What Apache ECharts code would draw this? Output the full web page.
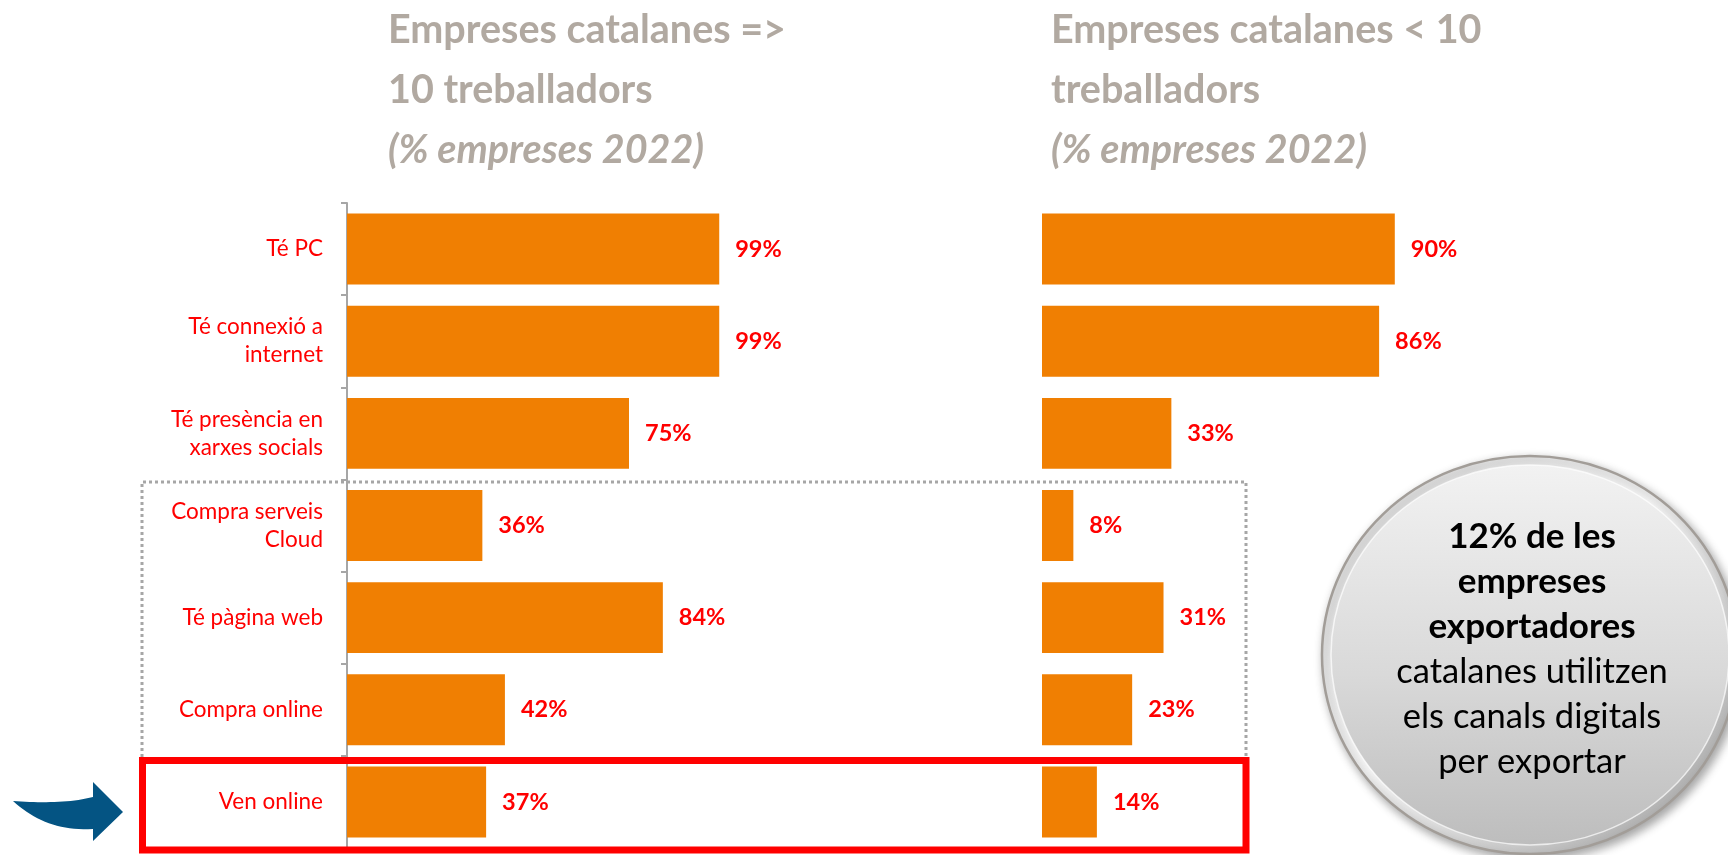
<!DOCTYPE html>
<html>
<head>
<meta charset="utf-8">
<script src="https://cdn.jsdelivr.net/npm/echarts@6/dist/echarts.min.js"></script>
<style>
  html, body { margin: 0; padding: 0; background: #ffffff; }
  #chart { width: 1728px; height: 855px; }
</style>
</head>
<body>
<div id="chart"></div>
<script>
// ---- data ----
const categories = ['Té PC', 'Té connexió a\ninternet', 'Té presència en\nxarxes socials', 'Compra serveis\nCloud', 'Té pàgina web', 'Compra online', 'Ven online'];
const large = [99, 99, 75, 36, 84, 42, 37];   // Empreses catalanes => 10 treballadors
const small = [90, 86, 33, 8, 31, 23, 14];    // Empreses catalanes < 10 treballadors
const titleLarge = ['Empreses catalanes =>', '10 treballadors', '(% empreses 2022)'];
const titleSmall = ['Empreses catalanes < 10', 'treballadors', '(% empreses 2022)'];
const bubbleBold = ['12% de les', 'empreses', 'exportadores'];
const bubbleRegular = ['catalanes utilitzen', 'els canals digitals', 'per exportar'];

const FONT = 'Lato, "Open Sans", sans-serif';
const ORANGE = '#F07F02';
const RED = '#FF0000';
const GREY_TITLE = '#B1A9A1';

function titleText(lines) {
  return '{a|' + lines[0] + '}\n{a|' + lines[1] + '}\n{b|' + lines[2] + '}';
}
const titleRich = {
  a: { fontFamily: FONT, fontWeight: 'bold', fontSize: 39.5, color: GREY_TITLE, lineHeight: 60 },
  b: { fontFamily: FONT, fontWeight: 'bold', fontStyle: 'italic', fontSize: 39.5, color: GREY_TITLE, lineHeight: 60 }
};

const valueLabel = {
  show: true, position: 'right', distance: 16,
  formatter: '{c}%',
  fontFamily: FONT, fontWeight: 'bold', fontSize: 23.5, color: RED
};

// sample a cubic bezier into points (for the arrow outline)
function cubic(p0, p1, p2, p3, n) {
  const pts = [];
  for (let i = 0; i <= n; i++) {
    const t = i / n, u = 1 - t;
    pts.push([
      u*u*u*p0[0] + 3*u*u*t*p1[0] + 3*u*t*t*p2[0] + t*t*t*p3[0],
      u*u*u*p0[1] + 3*u*u*t*p1[1] + 3*u*t*t*p2[1] + t*t*t*p3[1]
    ]);
  }
  return pts;
}
const arrowPts = [].concat(
  cubic([13, 801], [40, 803], [70, 803], [93, 797], 20),
  [[93, 782], [123, 812], [93, 841], [93, 829]],
  cubic([93, 829], [60, 831], [35, 821], [13, 801], 20)
);

const chart = echarts.init(document.getElementById('chart'));
chart.setOption({
  backgroundColor: '#ffffff',
  animation: false,
  title: [
    { text: titleText(titleLarge), left: 388, top: 0, padding: 0, textStyle: { rich: titleRich } },
    { text: titleText(titleSmall), left: 1051, top: 0, padding: 0, textStyle: { rich: titleRich } }
  ],
  grid: [
    { left: 347, top: 203, width: 376, height: 645, containLabel: false, outerBoundsMode: 'none' },
    { left: 1042, top: 203, width: 392, height: 645, containLabel: false, outerBoundsMode: 'none' }
  ],
  xAxis: [
    { type: 'value', gridIndex: 0, min: 0, max: 100, show: false },
    { type: 'value', gridIndex: 1, min: 0, max: 100, show: false }
  ],
  yAxis: [
    {
      type: 'category', gridIndex: 0, data: categories, inverse: true,
      axisLine: { show: true, lineStyle: { color: '#A6A6A6', width: 2 } },
      axisTick: { show: true, length: 6, lineStyle: { color: '#A6A6A6', width: 2 } },
      axisLabel: {
        margin: 24, color: RED, fontFamily: FONT, fontSize: 22.5, lineHeight: 28, align: 'right'
      },
      splitLine: { show: false }
    },
    {
      type: 'category', gridIndex: 1, data: categories, inverse: true,
      axisLine: { show: false }, axisTick: { show: false }, axisLabel: { show: false }, splitLine: { show: false }
    }
  ],
  series: [
    {
      type: 'bar', xAxisIndex: 0, yAxisIndex: 0, data: large,
      barCategoryGap: '23%', itemStyle: { color: ORANGE }, label: valueLabel, z: 3
    },
    {
      type: 'bar', xAxisIndex: 1, yAxisIndex: 1, data: small,
      barCategoryGap: '23%', itemStyle: { color: ORANGE }, label: valueLabel, z: 3
    }
  ],
  graphic: [
    {
      type: 'polyline', z: 1,
      shape: { points: [[142, 757], [142, 482], [1246, 482], [1246, 757]] },
      style: { stroke: '#A6A6A6', lineWidth: 3, lineDash: [3, 3], fill: null }
    },
    {
      type: 'rect', z: 2,
      shape: { x: 142.5, y: 760.5, width: 1103.5, height: 89.5 },
      style: { stroke: RED, lineWidth: 7, fill: null }
    },
    {
      type: 'polygon', z: 2,
      shape: { points: arrowPts },
      style: { fill: '#045483' }
    },
    {
      type: 'circle', z: 5,
      x: 1530, y: 655, scaleY: 199 / 208,
      shape: { cx: 0, cy: 0, r: 208 },
      style: {
        fill: new echarts.graphic.LinearGradient(0, 0, 1, 1, [
          { offset: 0, color: '#DADADA' }, { offset: 0.45, color: '#F6F6F6' }, { offset: 1, color: '#9A9A9A' }
        ]),
        stroke: '#A29D98', lineWidth: 2.5,
        shadowBlur: 10, shadowOffsetX: 3, shadowOffsetY: 4, shadowColor: 'rgba(0,0,0,0.35)'
      }
    },
    {
      type: 'circle', z: 6,
      x: 1530, y: 655, scaleY: 190 / 199,
      shape: { cx: 0, cy: 0, r: 199 },
      style: {
        fill: new echarts.graphic.LinearGradient(0, 0, 0, 1, [
          { offset: 0, color: '#F2F2F2' }, { offset: 0.55, color: '#D9D9D9' }, { offset: 1, color: '#BDBDBD' }
        ]),
        stroke: 'rgba(255,255,255,0.7)', lineWidth: 1.5
      }
    },
    {
      type: 'text', z: 7,
      x: 1532, y: 649.5,
      style: {
        text: bubbleBold.map(s => '{b|' + s + '}').join('\n') + '\n' + bubbleRegular.map(s => '{r|' + s + '}').join('\n'),
        align: 'center', verticalAlign: 'middle',
        rich: {
          b: { fontFamily: FONT, fontWeight: 'bold', fontSize: 35, lineHeight: 45, color: '#000000', align: 'center' },
          r: { fontFamily: FONT, fontSize: 34.5, lineHeight: 45, color: '#000000', align: 'center' }
        }
      }
    }
  ]
});
</script>
</body>
</html>
